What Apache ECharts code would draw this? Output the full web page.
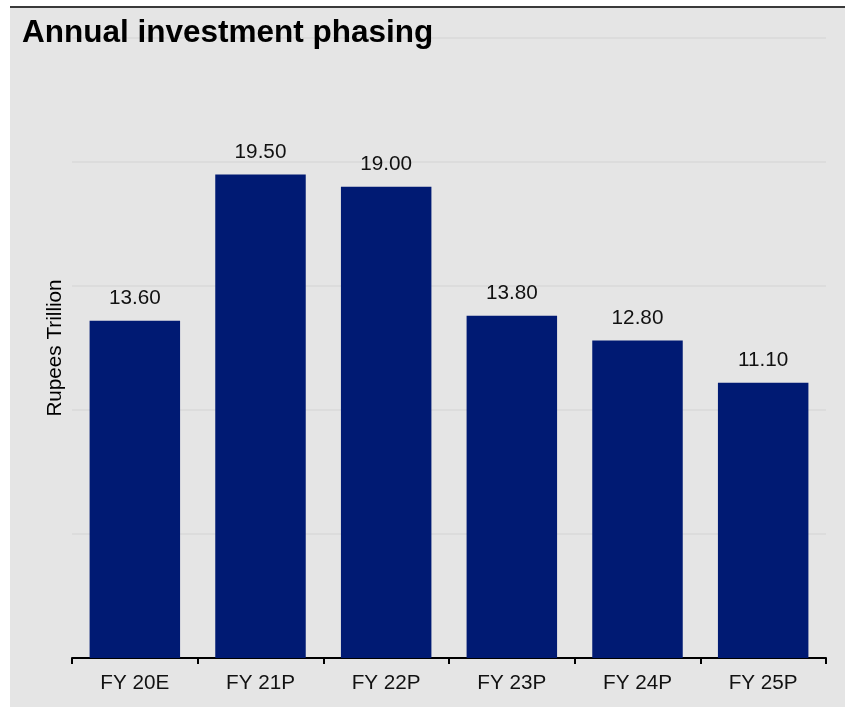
<!DOCTYPE html>
<html>
<head>
<meta charset="utf-8">
<title>Annual investment phasing</title>
<script src="https://cdn.jsdelivr.net/npm/echarts@6/dist/echarts.min.js"></script>
<style>
  html, body { margin: 0; padding: 0; background: #ffffff; }
  #chart { width: 845px; height: 707px; }
</style>
</head>
<body>
<div id="chart"></div>
<script>
// Fiscal years and planned investment (Rupees Trillion)
const categories = ['FY 20E', 'FY 21P', 'FY 22P', 'FY 23P', 'FY 24P', 'FY 25P'];
const investment = [13.6, 19.5, 19.0, 13.8, 12.8, 11.1];

const FONT = 'Liberation Sans, Arial, Helvetica, sans-serif';

const chart = echarts.init(document.getElementById('chart'), null, { renderer: 'canvas' });

chart.setOption({
  animation: false,
  backgroundColor: '#ffffff',
  graphic: [
    {
      type: 'rect',
      silent: true,
      z: -10,
      shape: { x: 10, y: 8, width: 835, height: 699 },
      style: { fill: '#e5e5e5' }
    },
    {
      type: 'line',
      silent: true,
      z: -9,
      shape: { x1: 10, y1: 7, x2: 845, y2: 7 },
      style: { stroke: '#3a3a3a', lineWidth: 2 }
    }
  ],
  title: {
    text: 'Annual investment phasing',
    left: 17,
    top: 12,
    textStyle: {
      fontFamily: FONT,
      fontWeight: 'bold',
      fontSize: 31.5,
      color: '#000000'
    }
  },
  grid: {
    left: 72,
    right: 19,
    top: 38,
    bottom: 49,
    containLabel: false
  },
  xAxis: {
    type: 'category',
    data: categories,
    axisLine: { show: true, lineStyle: { color: '#000000', width: 2 } },
    axisTick: { show: true, length: 6, lineStyle: { color: '#000000', width: 2 } },
    axisLabel: {
      margin: 15,
      fontFamily: FONT,
      fontSize: 20.7,
      color: '#111111'
    }
  },
  yAxis: {
    type: 'value',
    min: 0,
    max: 25,
    interval: 5,
    name: 'Rupees Trillion',
    nameLocation: 'middle',
    nameGap: 6,
    nameTextStyle: {
      fontFamily: FONT,
      fontSize: 20.7,
      color: '#000000'
    },
    axisLine: { show: false },
    axisTick: { show: false },
    axisLabel: { show: false },
    splitLine: { show: true, lineStyle: { color: '#d8d8d8', width: 1.5 } }
  },
  series: [
    {
      type: 'bar',
      data: investment,
      barCategoryGap: '28%',
      itemStyle: { color: '#001a73' },
      label: {
        show: true,
        position: 'top',
        distance: 12,
        fontFamily: FONT,
        fontSize: 20.7,
        color: '#111111',
        formatter: (p) => p.value.toFixed(2)
      }
    }
  ]
});
</script>
</body>
</html>
